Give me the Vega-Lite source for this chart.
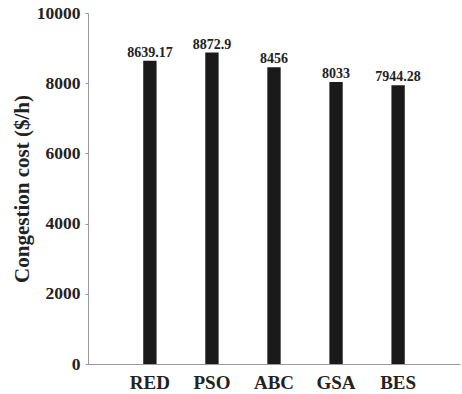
{
  "$schema": "https://vega.github.io/schema/vega-lite/v6.json",
  "autosize": {"type": "none"},
  "padding": {"left": 88, "top": 13, "right": 2, "bottom": 30},
  "width": 372,
  "height": 351,
  "background": "white",
  "data": {"values": [
    {"method": "RED", "cost": 8639.17, "label": "8639.17"},
    {"method": "PSO", "cost": 8872.9, "label": "8872.9"},
    {"method": "ABC", "cost": 8456, "label": "8456"},
    {"method": "GSA", "cost": 8033, "label": "8033"},
    {"method": "BES", "cost": 7944.28, "label": "7944.28"}
  ]},
  "config": {
    "view": {"stroke": null},
    "font": "Liberation Serif",
    "axis": {"grid": false, "labelFont": "Liberation Serif", "titleFont": "Liberation Serif", "labelFontWeight": "bold", "titleFontWeight": "bold", "labelColor": "#222", "titleColor": "#222", "domainColor": "#999", "tickColor": "#999"}
  },
  "encoding": {
    "x": {"field": "method", "type": "nominal", "sort": null,
      "scale": {"paddingInner": 0.785, "paddingOuter": 0.89},
      "axis": {"title": null, "labelAngle": 0, "ticks": false, "labelFontSize": 19, "labelPadding": 9}},
    "y": {"field": "cost", "type": "quantitative",
      "scale": {"domain": [0, 10000], "nice": false},
      "axis": {"title": "Congestion cost ($/h)", "values": [0, 2000, 4000, 6000, 8000, 10000], "labelFontSize": 17.5, "titleFontSize": 21, "tickSize": 3, "labelPadding": 5, "titlePadding": 4, "format": "d", "labelFlush": false}}
  },
  "layer": [
    {"mark": {"type": "bar", "color": "#1a1a1a"}},
    {"mark": {"type": "text", "baseline": "bottom", "dy": -1, "fontSize": 14, "fontWeight": "bold", "color": "#222", "font": "Liberation Serif"},
     "encoding": {"text": {"field": "label"}}}
  ]
}
